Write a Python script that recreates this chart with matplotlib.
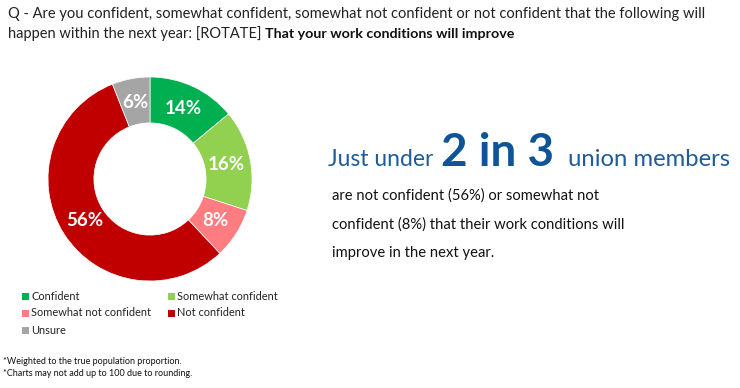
import matplotlib
matplotlib.use("Agg")
import matplotlib.pyplot as plt
from matplotlib.patches import Rectangle

categories = ["Confident", "Somewhat confident", "Somewhat not confident", "Not confident", "Unsure"]
values = [14, 16, 8, 56, 6]
colors = ["#00B050", "#92D050", "#FF7C80", "#C00000", "#A5A5A5"]

FONT = "Lato"
plt.rcParams['font.family'] = [FONT, 'DejaVu Sans']

W, H = 740, 388
fig = plt.figure(figsize=(W / 100, H / 100), dpi=100)

def fx(px):
    return px / W

def fy(py):
    return 1 - py / H

# Title
t1 = fig.text(fx(8), fy(18), "Q - Are you confident, somewhat confident, somewhat not confident or not confident that the following will",
              fontsize=10.55, color="#222222", va="baseline")
t2 = fig.text(fx(8), fy(38), "happen within the next year: [ROTATE] ", fontsize=10.55, color="#222222", va="baseline")
fig.canvas.draw()
bb = t2.get_window_extent()
fig.text(bb.x1 / W, fy(38), "That your work conditions will improve", fontsize=10.3, color="#111111",
         fontweight="bold", va="baseline")

# Donut
cx, cy, r = 150, 179, 102
ax = fig.add_axes([fx(cx - r), fy(cy + r), 2 * r / W, 2 * r / H])
wedges, texts = ax.pie(values, colors=colors, startangle=90, counterclock=False, radius=1,
                       wedgeprops=dict(width=0.45, edgecolor="white", linewidth=0.5),
                       labels=[f"{v}%" for v in values], labeldistance=0.76,
                       textprops=dict(color="white", fontsize=13.5, fontweight="bold",
                                      ha="center", va="center"))
for t in texts:
    t.set_ha("center")
    t.set_va("center")
ax.set_xlim(-1, 1)
ax.set_ylim(-1, 1)
ax.set_aspect("equal")
ax.axis("off")

# Legend
leg_pos = [(22, 296), (168, 296), (22, 313), (168, 313), (22, 330)]
for (lx, ly), lab, col in zip(leg_pos, categories, colors):
    fig.patches.append(Rectangle((fx(lx), fy(ly + 4)), 7 / W, 7 / H, transform=fig.transFigure,
                                 facecolor=col, edgecolor="none"))
    fig.text(fx(lx + 9), fy(ly), lab, fontsize=7.9, color="#222222", va="center")

# Footnotes
fig.text(fx(3), fy(361), "*Weighted to the true population proportion.", fontsize=6.5, color="#111111", va="center")
fig.text(fx(3), fy(374), "*Charts may not add up to 100 due to rounding.", fontsize=6.5, color="#111111", va="center")

# Headline
blue = "#1F5C99"
dblue = "#0F5496"
base = fy(166)
h1 = fig.text(fx(328), base, "Just under ", fontsize=16.5, color=blue, va="baseline")
fig.canvas.draw()
b1 = h1.get_window_extent()
h2 = fig.text(b1.x1 / W + fx(2), base, "2 in 3", fontsize=33, color=dblue, fontweight="bold", va="baseline")
fig.canvas.draw()
b2 = h2.get_window_extent()
fig.text(b2.x1 / W + fx(14), base, "union members", fontsize=17.2, color=blue, va="baseline")

body = ["are not confident (56%) or somewhat not",
        "confident (8%) that their work conditions will",
        "improve in the next year."]
for i, line in enumerate(body):
    fig.text(fx(332), fy(200 + 28.5 * i), line, fontsize=10.6, color="#111111", va="baseline")

fig.savefig("out.png", dpi=100)
